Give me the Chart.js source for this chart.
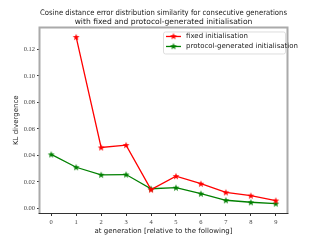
<!DOCTYPE html>
<html>
<head>
<meta charset="utf-8">
<script src="https://cdn.jsdelivr.net/npm/chart.js@4/dist/chart.umd.min.js"></script>
<style>
  html, body { margin: 0; padding: 0; background: #fff; }
  #wrap { width: 320px; height: 240px; }
</style>
</head>
<body>
<div id="wrap"><canvas id="klChart" width="320" height="240"></canvas></div>
<script>
// values
const generations = [0, 1, 2, 3, 4, 5, 6, 7, 8, 9];
const fixedInit = [null, 0.1293, 0.0460, 0.0478, 0.0142, 0.0244, 0.0187, 0.0122, 0.0097, 0.0060];
const protocolInit = [0.0408, 0.0311, 0.0254, 0.0256, 0.0149, 0.0157, 0.0112, 0.0062, 0.0047, 0.0037];
const yTicks = [0.00, 0.02, 0.04, 0.06, 0.08, 0.10, 0.12];
const xTicks = [0, 1, 2, 3, 4, 5, 6, 7, 8, 9];

const seriesNames = ['fixed initialisation', 'protocol-generated initialisation'];
const seriesColors = ['#ff0000', '#008000'];

// filled 5-point star like matplotlib's '*' marker
function starImage(color) {
    const c = document.createElement('canvas');
    c.width = 8; c.height = 8;
    const g = c.getContext('2d');
    g.fillStyle = color;
    g.beginPath();
    for (let i = 0; i < 10; i++) {
        const r = i % 2 === 0 ? 3.6 : 1.5;
        const a = -Math.PI / 2 + i * Math.PI / 5;
        const px = 4 + r * Math.cos(a), py = 4.3 + r * Math.sin(a);
        if (i === 0) g.moveTo(px, py); else g.lineTo(px, py);
    }
    g.closePath();
    g.fill();
    return c;
}

const stars = seriesColors.map(starImage);

function toPoints(values) {
    return generations.map((g, i) => ({ x: g, y: values[i] }));
}

// frame + legend box drawn over the plot
const framePlugin = {
    id: 'framePlugin',
    afterDraw(chart) {
        const ctx = chart.ctx;
        const a = chart.chartArea;
        ctx.save();
        ctx.strokeStyle = '#aaaaaa';
        ctx.lineWidth = 2;
        ctx.beginPath();
        ctx.moveTo(a.left - 0.5, a.bottom);
        ctx.lineTo(a.left - 0.5, a.top);
        ctx.lineTo(a.right + 0.5, a.top);
        ctx.lineTo(a.right + 0.5, a.bottom);
        ctx.stroke();
        ctx.strokeStyle = '#333333';
        ctx.lineWidth = 1;
        ctx.beginPath();
        ctx.moveTo(a.left - 1.5, a.bottom + 0.5);
        ctx.lineTo(a.right + 1.5, a.bottom + 0.5);
        ctx.stroke();

        // legend
        const bx = a.right - 124, by = a.top + 4, bw = 122, bh = 22;
        ctx.fillStyle = 'rgba(255,255,255,0.9)';
        ctx.strokeStyle = '#dddddd';
        ctx.lineWidth = 1;
        ctx.beginPath();
        ctx.roundRect(bx + 0.5, by + 0.5, bw, bh, 2);
        ctx.fill();
        ctx.stroke();
        ctx.font = '7px "DejaVu Sans", sans-serif';
        ctx.textBaseline = 'middle';
        seriesNames.forEach((name, i) => {
            const ly = by + 5 + i * 10;
            ctx.strokeStyle = seriesColors[i];
            ctx.lineWidth = 1.3;
            ctx.beginPath();
            ctx.moveTo(bx + 3, ly);
            ctx.lineTo(bx + 18, ly);
            ctx.stroke();
            ctx.drawImage(stars[i], bx + 6.5, ly - 4.3);
            ctx.fillStyle = '#222222';
            ctx.fillText(name, bx + 23, ly);
        });
        ctx.restore();
    }
};

const tickFont = { family: '"Liberation Serif", serif', size: 6.5 };

new Chart(document.getElementById('klChart'), {
    type: 'line',
    data: {
        datasets: [
            {
                label: seriesNames[0],
                data: toPoints(fixedInit),
                borderColor: seriesColors[0],
                backgroundColor: seriesColors[0],
                borderWidth: 1.3,
                pointStyle: stars[0],
                tension: 0
            },
            {
                label: seriesNames[1],
                data: toPoints(protocolInit),
                borderColor: seriesColors[1],
                backgroundColor: seriesColors[1],
                borderWidth: 1.3,
                pointStyle: stars[1],
                tension: 0
            }
        ]
    },
    options: {
        responsive: false,
        animation: false,
        devicePixelRatio: 1,
        layout: { padding: { left: 0, right: 33, top: 0, bottom: 0 } },
        plugins: {
            legend: { display: false },
            tooltip: { enabled: false },
            title: {
                display: true,
                fullSize: false,
                text: ['Cosine distance error distribution similarity for consecutive generations',
                       'with fixed and protocol-generated initialisation'],
                color: '#222222',
                font: { family: '"DejaVu Sans", sans-serif', size: 7.6, weight: 'normal', lineHeight: 1.15 },
                padding: { top: 9, bottom: 1 }
            }
        },
        scales: {
            x: {
                type: 'linear',
                min: -0.45,
                max: 9.45,
                afterFit(scale) { scale.height = 27; },
                afterBuildTicks(scale) { scale.ticks = xTicks.map(v => ({ value: v })); },
                grid: { drawOnChartArea: false, tickLength: 3, color: '#333333' },
                border: { display: false },
                ticks: { font: tickFont, color: '#444444', padding: 2, maxRotation: 0, callback: v => String(v) },
                title: {
                    display: true,
                    text: 'at generation [relative to the following]',
                    color: '#222222',
                    font: { family: '"DejaVu Sans", sans-serif', size: 7 },
                    padding: { top: 0, bottom: 5 }
                }
            },
            y: {
                min: -0.0034,
                max: 0.1365,
                afterFit(scale) { scale.width = 40; },
                afterBuildTicks(scale) { scale.ticks = yTicks.map(v => ({ value: v })); },
                grid: { drawOnChartArea: false, tickLength: 3, color: '#333333' },
                border: { display: false },
                ticks: { font: tickFont, color: '#444444', padding: 2, callback: v => v.toFixed(2) },
                title: {
                    display: true,
                    text: 'KL divergence',
                    color: '#222222',
                    font: { family: '"DejaVu Sans", sans-serif', size: 7 },
                    padding: { top: 12, bottom: 0 }
                }
            }
        }
    },
    plugins: [framePlugin]
});
</script>
</body>
</html>
